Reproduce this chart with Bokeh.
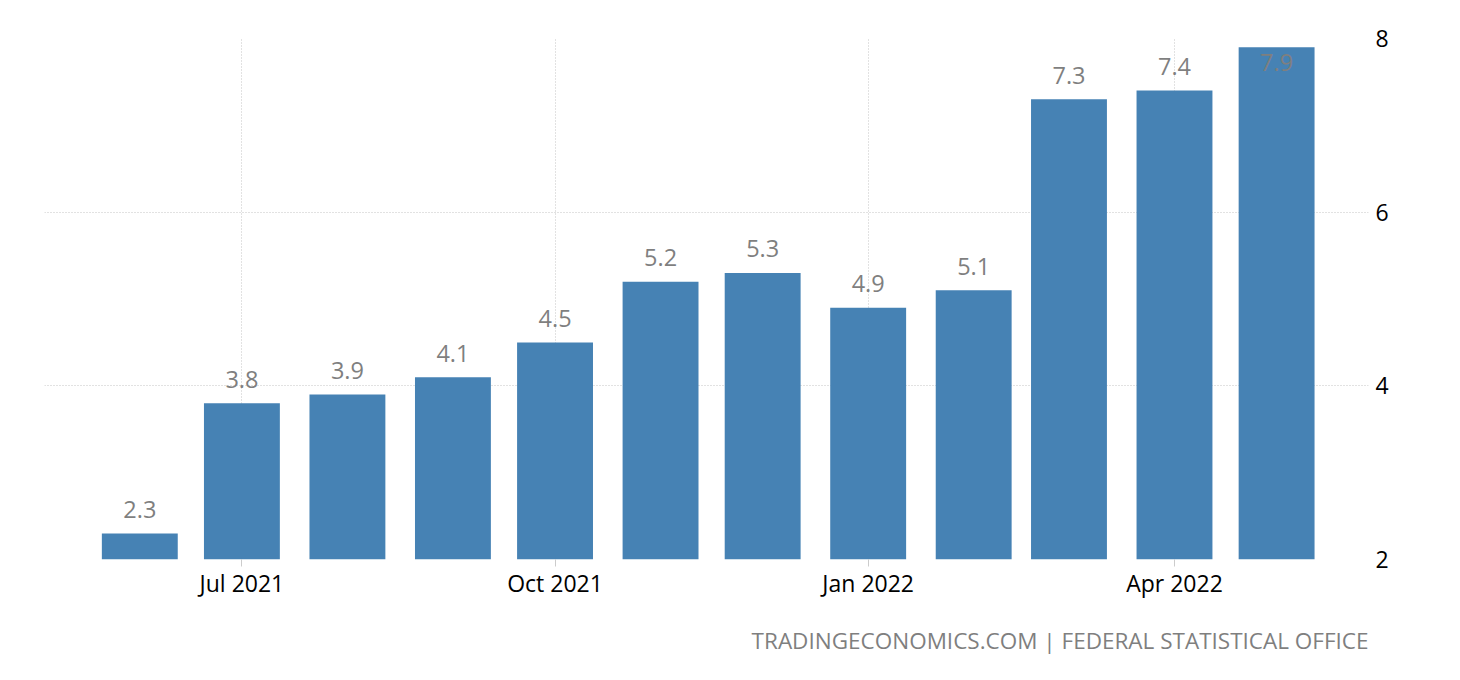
from datetime import datetime, timedelta
from bokeh.plotting import figure
from bokeh.models import ColumnDataSource, FixedTicker, MonthsTicker, DatetimeTickFormatter, Range1d, Title
from bokeh.core.properties import value
from bokeh.embed import file_html
from bokeh.resources import INLINE

months = ["2021-06", "2021-07", "2021-08", "2021-09", "2021-10", "2021-11",
          "2021-12", "2022-01", "2022-02", "2022-03", "2022-04", "2022-05"]
rates = [2.3, 3.8, 3.9, 4.1, 4.5, 5.2, 5.3, 4.9, 5.1, 7.3, 7.4, 7.9]
y_ticks = [2, 4, 6, 8]

FONT = "Open Sans"
BAR = "#4682b4"

dates = [datetime.strptime(m, "%Y-%m") for m in months]
labels = [f"{v:.1f}" for v in rates]
ymax = 8
# labels that would run out of the frame are drawn inside the bar
offs = [-24 if v + 0.4 < ymax else 15 for v in rates]

src = ColumnDataSource(dict(x=dates, top=rates, label=labels, off=offs))

p = figure(width=1452, height=677, x_axis_type="datetime", y_axis_location="right",
           output_backend="svg", toolbar_location=None,
           x_range=Range1d(datetime(2021, 5, 4), datetime(2022, 5, 28)),
           y_range=Range1d(2, 8),
           min_border_left=44, min_border_top=38, min_border_right=84, min_border_bottom=118)
p.outline_line_color = None
p.background_fill_color = "white"

bar_w = timedelta(days=22.3).total_seconds() * 1000
p.vbar(x="x", top="top", bottom=2, width=bar_w, source=src, fill_color=BAR, line_color=None)
p.text(x="x", y="top", text="label", source=src, y_offset="off",
       text_align="center", text_baseline="middle",
       text_font=value(FONT), text_font_size="23.5px", text_color="#7f7f7f")

p.xaxis.ticker = MonthsTicker(months=[0, 3, 6, 9])
p.xaxis.formatter = DatetimeTickFormatter(months="%b %Y", days="%b %Y")
p.xaxis.axis_line_color = None
p.xaxis.major_tick_line_color = "#cccccc"
p.xaxis.major_tick_out = 7
p.xaxis.major_tick_in = 0
p.xaxis.minor_tick_line_color = None
p.xaxis.major_label_standoff = 0
p.xaxis.major_label_text_font = FONT
p.xaxis.major_label_text_font_size = "23px"
p.xaxis.major_label_text_color = "black"

p.yaxis.ticker = FixedTicker(ticks=y_ticks)
p.yaxis.axis_line_color = None
p.yaxis.major_tick_line_color = None
p.yaxis.major_tick_out = 0
p.yaxis.major_tick_in = 0
p.yaxis.minor_tick_line_color = None
p.yaxis.major_label_standoff = 7
p.yaxis.major_label_text_font = FONT
p.yaxis.major_label_text_font_size = "23px"
p.yaxis.major_label_text_color = "black"

p.xgrid.ticker = MonthsTicker(months=[0, 3, 6, 9])
for g in (p.xgrid, p.ygrid):
    g.grid_line_color = "#c4c4c4"
    g.grid_line_dash = "1 2"
    g.grid_line_width = 1

p.add_layout(Title(text="TRADINGECONOMICS.COM | FEDERAL STATISTICAL OFFICE", align="right",
                   text_font=FONT, text_font_size="22.5px", text_font_style="normal",
                   text_color="#7f7f7f", standoff=42), "below")

open("out.html", "w").write(file_html(p, INLINE))
